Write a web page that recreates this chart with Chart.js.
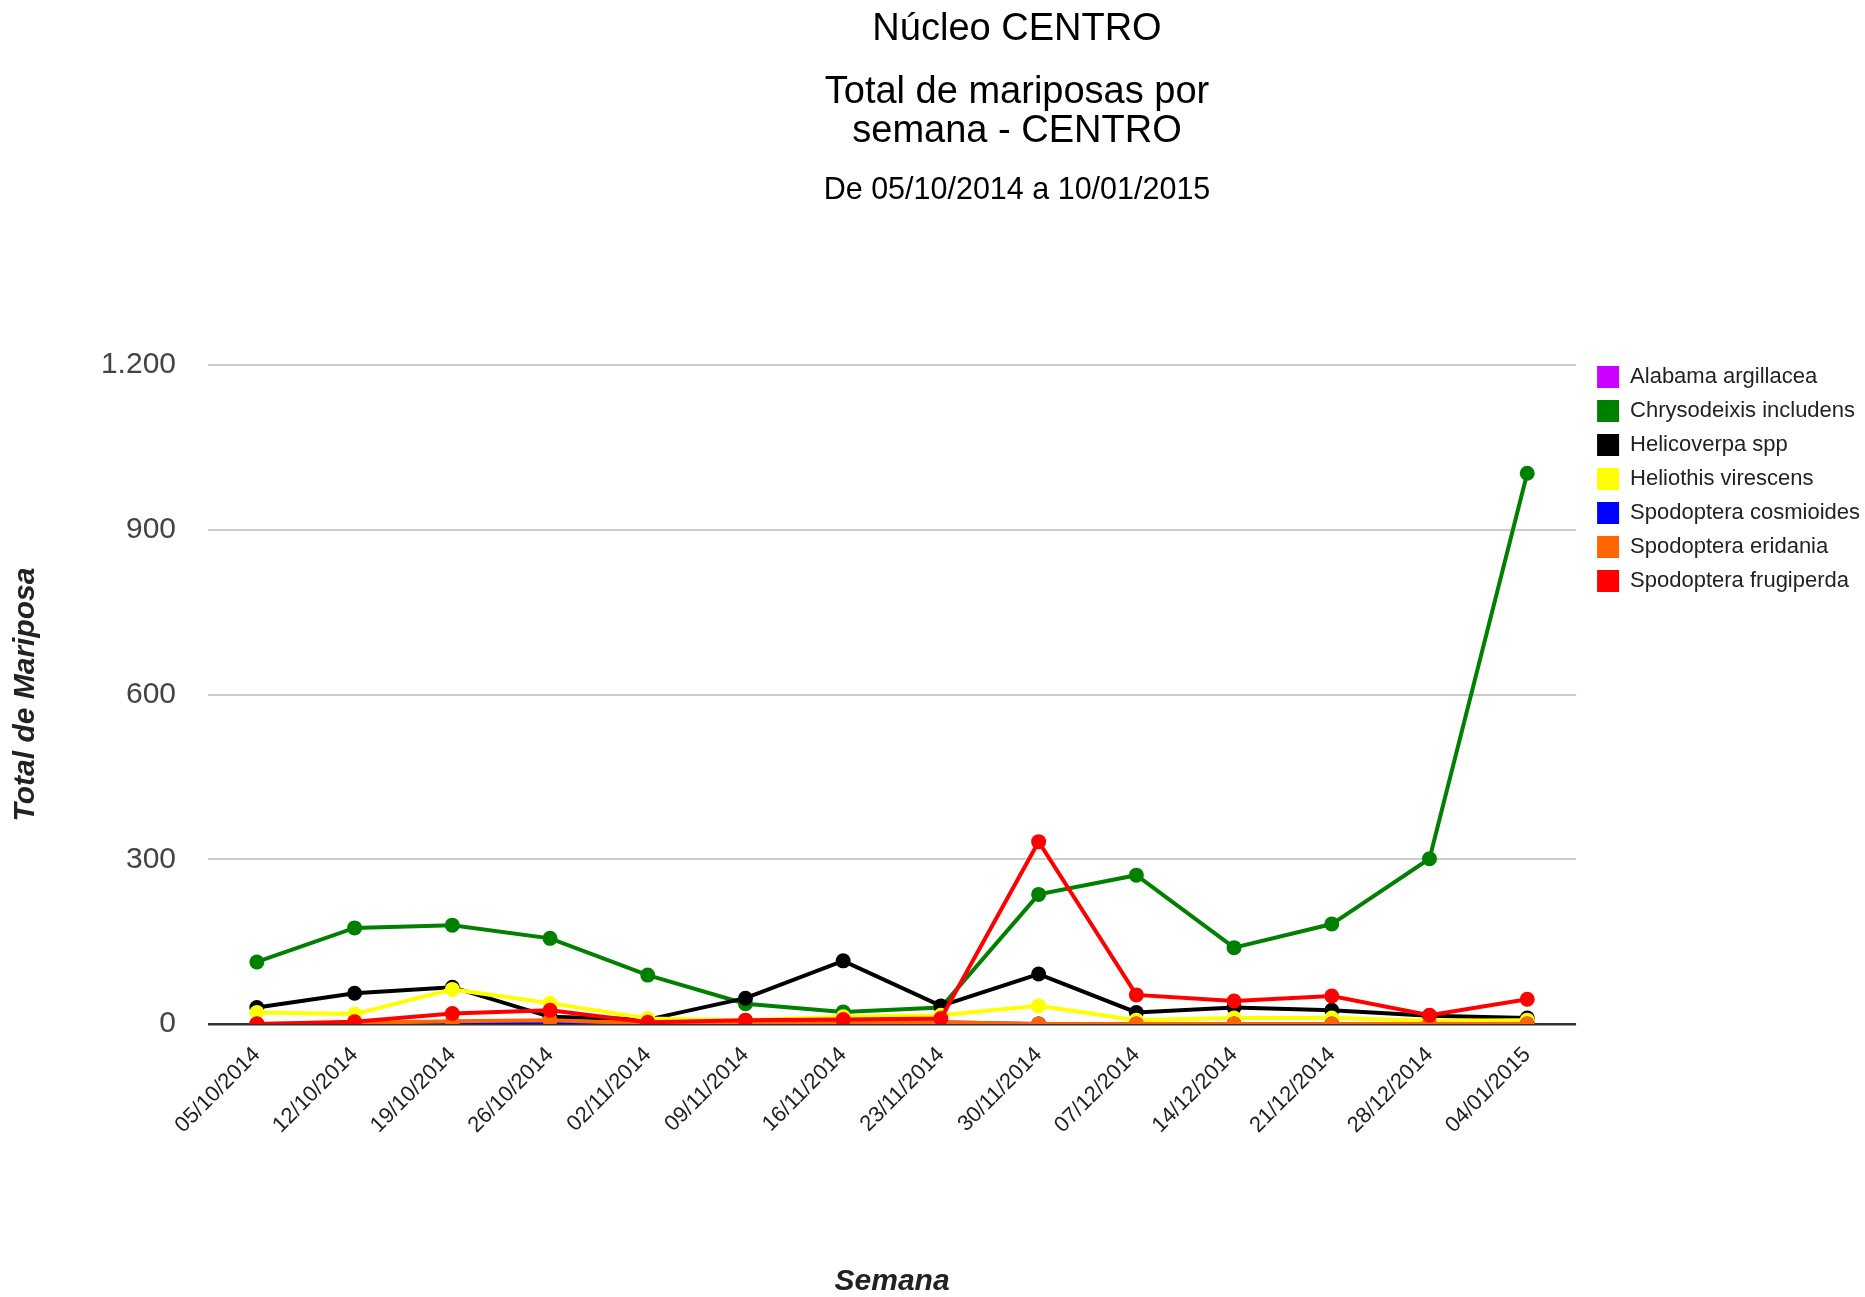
<!DOCTYPE html>
<html lang="pt">
<head>
    <meta charset="UTF-8">
    <title>Núcleo CENTRO - Total de mariposas por semana</title>
    <script src="https://cdn.jsdelivr.net/npm/chart.js"></script>
    <style>
        body {
            margin: 0;
            background-color: #fff;
        }
        #chart-container {
            width: 1865px;
            height: 1297px;
        }
    </style>
</head>
<body>
    <div id="chart-container">
        <canvas id="mothChart"></canvas>
    </div>

    <script>
        // Semanas
        const semanas = ['05/10/2014', '12/10/2014', '19/10/2014', '26/10/2014', '02/11/2014', '09/11/2014', '16/11/2014',
                         '23/11/2014', '30/11/2014', '07/12/2014', '14/12/2014', '21/12/2014', '28/12/2014', '04/01/2015'];

        // Total de mariposas por espécie
        const alabama      = [0, 0, 0, 0, 0, 1, 6, 3, 0, 0, 0, 0, 0, 0];
        const chrysodeixis = [113, 175, 180, 156, 89, 37, 22, 30, 236, 271, 139, 182, 301, 1003];
        const helicoverpa  = [30, 56, 67, 13, 8, 47, 115, 33, 91, 21, 30, 25, 15, 11];
        const heliothis    = [21, 18, 63, 38, 10, 7, 13, 16, 33, 7, 11, 11, 6, 7];
        const cosmioides   = [0, 0, 0, 0, 0, 0, 1, 0, 0, 0, 0, 0, 0, 0];
        const eridania     = [0, 2, 5, 7, 1, 1, 2, 3, 0, 0, 0, 0, 0, 0];
        const frugiperda   = [0, 4, 19, 25, 3, 7, 8, 10, 332, 53, 42, 51, 16, 45];

        const yTicks = [0, 300, 600, 900, 1200];

        const titulo = 'Núcleo CENTRO';
        const subtitulo = ['Total de mariposas por', 'semana - CENTRO'];
        const periodo = 'De 05/10/2014 a 10/01/2015';

        const fontFamily = '"Liberation Sans", Arial, sans-serif';

        function serie(label, data, color, order) {
            return {
                label: label,
                data: data,
                borderColor: color,
                backgroundColor: color,
                pointBackgroundColor: color,
                pointBorderWidth: 0,
                pointRadius: 7.5,
                borderWidth: 4,
                tension: 0,
                fill: false,
                order: order
            };
        }

        // Títulos desenhados na área de cima + ajuste fino da legenda
        const tituloPlugin = {
            id: 'tituloPlugin',
            afterLayout(chart) {
                chart.legend.top -= 11;
                chart.legend.left += 5;
            },
            afterDraw(chart) {
                const ctx = chart.ctx;
                const cx = 1017;
                ctx.save();
                ctx.fillStyle = '#000';
                ctx.textAlign = 'center';
                ctx.textBaseline = 'middle';
                ctx.font = '38px ' + fontFamily;
                ctx.fillText(titulo, cx, 30);
                ctx.fillText(subtitulo[0], cx, 93);
                ctx.fillText(subtitulo[1], cx, 132);
                ctx.font = '30.5px ' + fontFamily;
                ctx.fillText(periodo, cx, 191);
                ctx.restore();
            }
        };

        const ctx = document.getElementById('mothChart').getContext('2d');
        const mothChart = new Chart(ctx, {
            type: 'line',
            data: {
                labels: semanas,
                datasets: [
                    serie('Alabama argillacea', alabama, '#cc00ff', 6),
                    serie('Chrysodeixis includens', chrysodeixis, '#008000', 5),
                    serie('Helicoverpa spp', helicoverpa, '#000000', 4),
                    serie('Heliothis virescens', heliothis, '#ffff00', 3),
                    serie('Spodoptera cosmioides', cosmioides, '#0000ff', 2),
                    serie('Spodoptera eridania', eridania, '#ff6600', 1),
                    serie('Spodoptera frugiperda', frugiperda, '#ff0000', 0)
                ]
            },
            options: {
                responsive: true,
                maintainAspectRatio: false,
                animation: false,
                layout: {
                    padding: { top: 365, right: 0, bottom: 0, left: 0 }
                },
                plugins: {
                    title: { display: false },
                    tooltip: { enabled: false },
                    legend: {
                        position: 'right',
                        align: 'start',
                        labels: {
                            boxWidth: 22,
                            boxHeight: 22,
                            padding: 12,
                            color: '#222',
                            font: { family: fontFamily, size: 22 },
                            sort: (a, b) => a.datasetIndex - b.datasetIndex,
                            generateLabels(chart) {
                                const items = Chart.defaults.plugins.legend.labels.generateLabels(chart);
                                items.forEach(item => {
                                    item.lineWidth = 0;
                                    item.strokeStyle = item.fillStyle;
                                });
                                return items;
                            }
                        }
                    }
                },
                scales: {
                    x: {
                        type: 'category',
                        offset: true,
                        grid: { display: false, drawTicks: false },
                        border: { display: false },
                        ticks: {
                            color: '#222',
                            font: { family: fontFamily, size: 22 },
                            minRotation: 45,
                            maxRotation: 45,
                            autoSkip: false,
                            padding: 18
                        },
                        title: {
                            display: true,
                            text: 'Semana',
                            color: '#222',
                            font: { family: fontFamily, size: 30, weight: 'bold', style: 'italic', lineHeight: 1 },
                            padding: { top: 0, bottom: 0 }
                        },
                        afterFit(scale) {
                            scale.height = 273;
                        }
                    },
                    y: {
                        min: 0,
                        max: 1200,
                        afterBuildTicks(scale) {
                            scale.ticks = yTicks.map(v => ({ value: v }));
                        },
                        grid: {
                            drawTicks: false,
                            lineWidth: c => (c.tick && c.tick.value === 0) ? 2.5 : 2,
                            color: c => (c.tick && c.tick.value === 0) ? '#333' : '#ccc'
                        },
                        border: { display: false },
                        ticks: {
                            color: '#444',
                            font: { family: fontFamily, size: 30 },
                            padding: 32,
                            callback: v => v.toString().replace(/\B(?=(\d{3})+(?!\d))/g, '.')
                        },
                        title: {
                            display: true,
                            text: 'Total de Mariposa',
                            color: '#222',
                            font: { family: fontFamily, size: 30, weight: 'bold', style: 'italic' },
                            padding: { top: 8, bottom: 0 }
                        },
                        afterFit(scale) {
                            scale.width = 208;
                        }
                    },
                    // espaço entre o gráfico e a legenda
                    gap: {
                        position: 'right',
                        display: true,
                        grid: { display: false, drawTicks: false },
                        border: { display: false },
                        ticks: { display: false },
                        afterFit(scale) {
                            scale.width = 4;
                        }
                    }
                }
            },
            plugins: [tituloPlugin]
        });
    </script>
</body>
</html>
